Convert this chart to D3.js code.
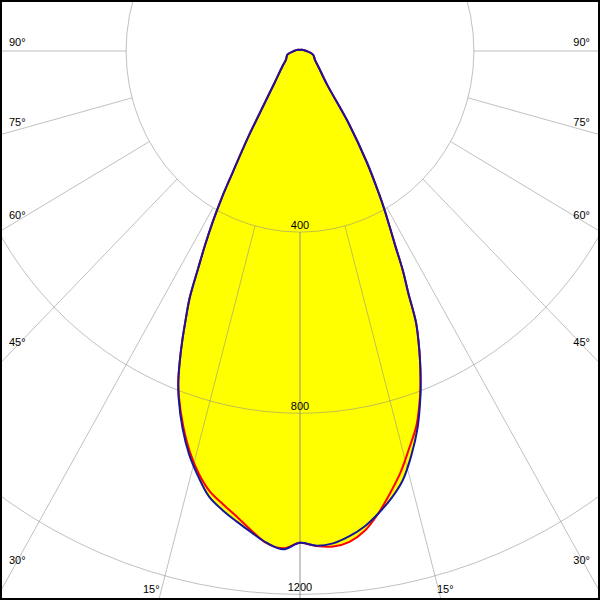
<!DOCTYPE html>
<html><head><meta charset="utf-8">
<script src="https://cdn.jsdelivr.net/npm/d3@7"></script>
<style>html,body{margin:0;padding:0;background:#fff}svg{display:block}</style>
</head><body>
<script>
// gamma angles (degrees from nadir) and luminous intensities (cd)
const gammas    = [0,2,4,6,8,10,12,14,16,18,20,21,22,23,24,25,26,27,28,29,30,32,35,40,50,60,75,90,120,150,180];
const blueLeft  = [1086,1101,1089,1069,1049,1029,1006,968,926,875,816,781,738,692,645,599,535,481,428,372,310,228,145,90,53,37,30,14,6,3,2];
const blueRight = [1086,1093,1090,1078,1061,1037,1010,977,929,875,810,774,737,698,656,589,540,483,439,401,362,291,196,97,56,40,31,15,6,3,2];
const redLeft   = [1086,1099,1090,1065,1039,1017,995,962,920,870,814,781,738,692,645,599,535,481,428,372,310,228,145,90,53,37,30,14,6,3,2];
const redRight  = [1086,1094,1097,1090,1070,1037,998,958,912,868,808,774,737,698,656,589,540,483,439,401,362,291,196,97,56,40,31,15,6,3,2];
const ringValues = [400, 800, 1200];
const ringLabels = ["400", "800", "1200"];
const spokeAngles = [0, 15, 30, 45, 60, 75, 90];
const angleLabels = ["90°", "75°", "60°", "45°", "30°", "15°"];

const W = 600, H = 600;
const svg = d3.select("body").append("svg").attr("width", W).attr("height", H);
svg.append("rect").attr("width", W).attr("height", H).attr("fill", "#fff");

// intensity -> pixel scales (horizontal axis slightly compressed as in the reference)
const y = d3.scaleLinear().domain([0, 1200]).range([51, 594.4]);
const x = d3.scaleLinear().domain([-1200, 1200]).range([300 - 521.7, 300 + 521.7]);
const rad = d => d * Math.PI / 180;
const px = (gDeg, I, s) => x(s * I * Math.sin(rad(gDeg)));
const py = (gDeg, I) => y(I * Math.cos(rad(gDeg)));

function pts(left, right) {
  const out = [];
  for (let i = gammas.length - 1; i >= 1; i--) out.push([gammas[i], left[i], -1]);
  for (let i = 0; i < gammas.length - 1; i++) out.push([gammas[i], right[i], 1]);
  return out;
}
const line = d3.line().x(d => px(d[0], d[1], d[2])).y(d => py(d[0], d[1]))
  .curve(d3.curveCatmullRomClosed.alpha(0.5));

const redPts = pts(redLeft, redRight), bluePts = pts(blueLeft, blueRight);
svg.append("path").attr("d", line(redPts)).attr("fill", "#ffff00");
svg.append("path").attr("d", line(bluePts)).attr("fill", "#ffff00");

// grid
const grid = svg.append("g").attr("stroke", "#8c8c8c").attr("stroke-opacity", 0.55).attr("fill", "none");
ringValues.forEach(v => grid.append("ellipse")
  .attr("cx", x(0)).attr("cy", y(0)).attr("rx", x(v) - x(0)).attr("ry", y(v) - y(0)));
spokeAngles.forEach(a => {
  [1, -1].forEach(s => {
    grid.append("line")
      .attr("x1", px(a, 400, s)).attr("y1", py(a, 400))
      .attr("x2", px(a, 2200, s)).attr("y2", py(a, 2200));
  });
});

// curves
svg.append("path").attr("d", line(redPts)).attr("fill", "none").attr("stroke", "#ff0000").attr("stroke-width", 2).attr("stroke-linejoin", "round");
svg.append("path").attr("d", line(bluePts)).attr("fill", "none").attr("stroke", "#16169e").attr("stroke-width", 2).attr("stroke-linejoin", "round");

// ring labels
const font = "'Liberation Sans', Arial, sans-serif";
ringValues.forEach((v, i) => {
  svg.append("text").attr("x", x(0)).attr("y", y(v) - 3)
    .attr("text-anchor", "middle").attr("font-family", font).attr("font-size", 11)
    .attr("fill", "#000").text(ringLabels[i]);
});

// angle labels
const sideY = [46, 126, 219, 346, 564];
angleLabels.slice(0, 5).forEach((t, i) => {
  svg.append("text").attr("x", 9).attr("y", sideY[i]).attr("font-family", font).attr("font-size", 11).text(t);
  svg.append("text").attr("x", 590).attr("y", sideY[i]).attr("text-anchor", "end").attr("font-family", font).attr("font-size", 11).text(t);
});
svg.append("text").attr("x", 143).attr("y", 593).attr("font-family", font).attr("font-size", 11).text(angleLabels[5]);
svg.append("text").attr("x", 437).attr("y", 593).attr("font-family", font).attr("font-size", 11).text(angleLabels[5]);

// frame
svg.append("rect").attr("x", 1).attr("y", 1).attr("width", W - 2).attr("height", H - 2)
  .attr("fill", "none").attr("stroke", "#000").attr("stroke-width", 2);
</script>
</body></html>
